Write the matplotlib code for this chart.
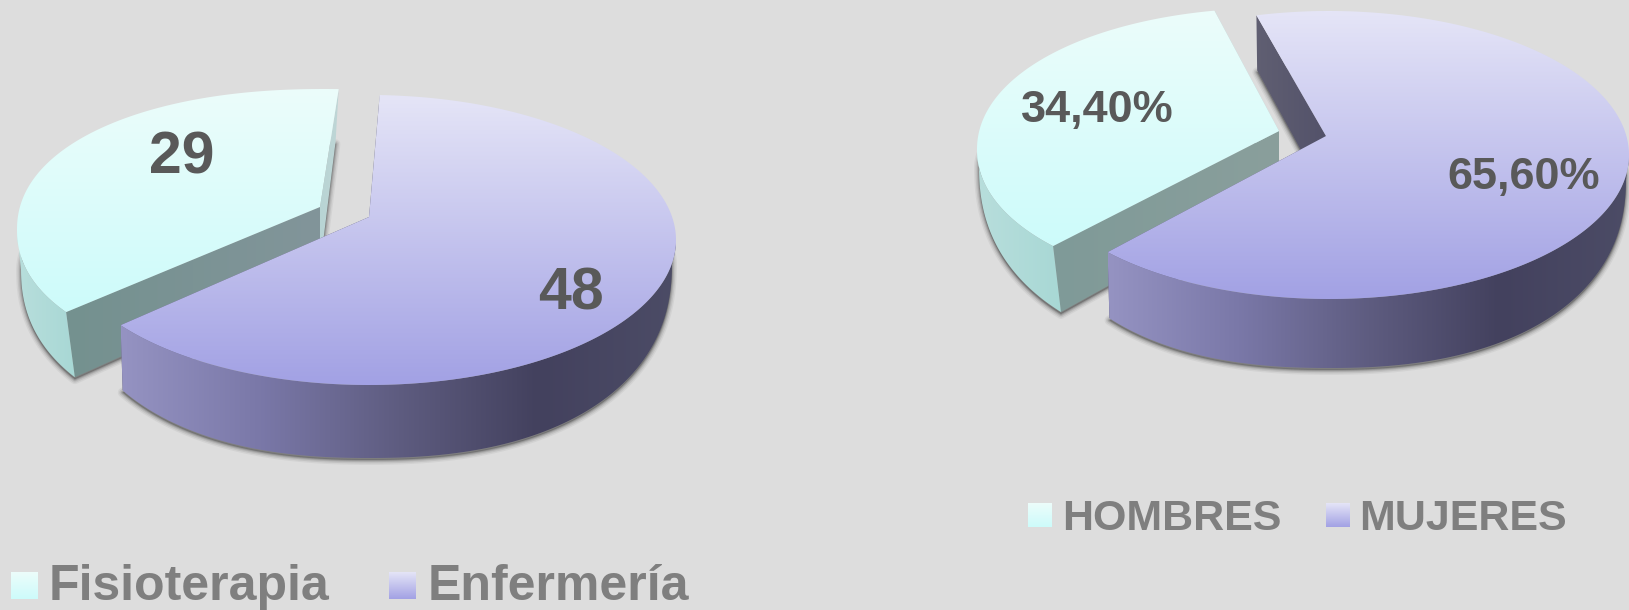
import numpy as np
import matplotlib
matplotlib.use("Agg")
import matplotlib.pyplot as plt
from matplotlib.colors import LinearSegmentedColormap
from matplotlib.patches import Polygon

plt.rcParams["font.family"] = ["Liberation Sans", "DejaVu Sans"]

# Data
left_categories = ["Fisioterapia", "Enfermería"]
left_values = [29, 48]
right_categories = ["HOMBRES", "MUJERES"]
right_values = [34.40, 65.60]

BG = "#dddddd"
TOP_COLORS = [["#ecfdfb", "#cdfbfa"], ["#e5e5f7", "#a2a1e4"]]
WALL_COLORS = [["#b8dedc", "#a8d8d5"],
               ["#9593c2", "#7a78a8", "#5e5c80", "#43415e", "#4c4c66"]]
FACE_COLORS = [["#74918f", "#82959a"], ["#605f72", "#53526a"]]
RIGHT_FACE_COLORS = [["#7f9a98", "#8a9f9c"], ["#605f72", "#53526a"]]
BACK_COLORS = ["#b8d4d4", "#bfd6d6"]

fig = plt.figure(figsize=(16.29, 6.10), dpi=100, facecolor=BG)
ax = fig.add_axes([0, 0, 1, 1])
ax.set_facecolor(BG)
ax.axis("off")


def grad_fill(verts, colors, vertical=False, zorder=2):
    verts = np.array(verts)
    cmap = LinearSegmentedColormap.from_list("g", colors)
    g = np.linspace(0, 1, 256)
    g = g[:, None] if vertical else g[None, :]
    extent = (verts[:, 0].min(), verts[:, 0].max(), verts[:, 1].max(), verts[:, 1].min())
    im = ax.imshow(g, cmap=cmap, extent=extent, aspect="auto", origin="upper",
                   interpolation="bilinear", zorder=zorder)
    clip = Polygon(verts, closed=True, transform=ax.transData)
    im.set_clip_path(clip)
    return im


def top_rim(p, angles):
    t = np.radians(angles)
    c, s = np.cos(t), np.sin(t)
    e = p.get("e", 1.0)
    return np.column_stack([p["cx"] + p["rx"] * np.sign(c) * np.abs(c) ** e,
                            p["cy"] - p["ry"] * np.sign(s) * np.abs(s) ** e])


def low_rim(p, angles):
    # the bottom outline is blunter than the top one, front and back differ
    t = np.radians(angles)
    c, s = np.cos(t), np.sin(t)
    x = np.where(s < 0, np.sign(c) * np.abs(c) ** 0.87, c)
    y = np.where(s < 0, p["base"] + p["front"] * np.abs(s) ** 0.87, p["base"] - p["back"] * s)
    return np.column_stack([p["cx"] + p["low_rx"] * x, y])


def draw_slice(p, share, top_colors, wall_colors, near_colors, far_colors, z):
    a0 = p["start"]
    a1 = a0 - (share * 360 + p["skew"])
    apex = np.array(p["apex"], dtype=float)
    apex_low = apex + [0, 60]
    angles = np.linspace(a0, a1, 360)
    # near edge of the bottom sits a little further round than the top one
    low_angles = np.linspace(a0 + p["shift"] if np.sin(np.radians(a0)) < 0 else a0,
                             a1 + p["shift"] if np.sin(np.radians(a1)) < 0 else a1, 360)
    top_arc = top_rim(p, angles)
    low_arc = low_rim(p, low_angles)

    # soft shadow under the slice
    outline = np.vstack([low_arc, apex_low]) + [0, 2]
    for lw, alpha in [(7, 0.08), (5, 0.12), (3, 0.18), (1.5, 0.28)]:
        ax.add_patch(Polygon(outline, closed=True, fc="#555555", ec="#555555",
                             lw=lw, alpha=alpha, zorder=z, joinstyle="round"))

    # cut faces, then the front part of the wall, then the top surface
    far_i, near_i = (-1, 0) if a0 > 180 else (0, -1)
    grad_fill([top_arc[far_i], apex, apex_low, low_arc[far_i]], far_colors, zorder=z + 0.1)
    grad_fill([top_arc[near_i], apex, apex_low, low_arc[near_i]], near_colors, zorder=z + 0.2)
    wall = np.vstack([top_arc[np.sin(np.radians(angles)) <= 0],
                      low_arc[np.sin(np.radians(low_angles)) <= 0][::-1]])
    grad_fill(wall, wall_colors, zorder=z + 0.3)
    grad_fill(np.vstack([top_arc, apex]), top_colors, vertical=True, zorder=z + 0.4)


# Left pie
left_total = sum(left_values)
draw_slice(dict(cx=324, cy=230, rx=307, ry=141, e=0.93, apex=(320, 207), start=214, skew=-9.4,
                low_rx=303, base=268, front=170, back=126, shift=3),
           left_values[0] / left_total, TOP_COLORS[0], WALL_COLORS[0],
           FACE_COLORS[0], BACK_COLORS, 3)
draw_slice(dict(cx=369, cy=240, rx=307, ry=145, apex=(369, 217), start=88, skew=7.6,
                low_rx=303, base=262, front=196, back=115, shift=2),
           left_values[1] / left_total, TOP_COLORS[1], WALL_COLORS[1],
           FACE_COLORS[1], FACE_COLORS[1], 4)

# Right pie
right_total = sum(right_values)
draw_slice(dict(cx=1277, cy=149.6, rx=300, ry=141.7, e=0.97, apex=(1279, 131), start=222.3, skew=-3.0,
                low_rx=298, base=165, front=195, back=103, shift=4),
           right_values[0] / right_total, TOP_COLORS[0], WALL_COLORS[0],
           RIGHT_FACE_COLORS[0], BACK_COLORS, 3)
draw_slice(dict(cx=1329, cy=155, rx=300, ry=144, apex=(1326, 136), start=104, skew=5.4,
                low_rx=297, base=177, front=191, back=110, shift=2.6),
           right_values[1] / right_total, TOP_COLORS[1], WALL_COLORS[1],
           RIGHT_FACE_COLORS[1], RIGHT_FACE_COLORS[1], 4)


def px(size):
    return size * 72 / fig.dpi


# Value labels
label_style = dict(color="#595959", fontweight="bold", ha="left", va="baseline", zorder=8)
ax.text(149, 173, str(left_values[0]), fontsize=px(59), **label_style)
ax.text(538, 309, str(left_values[1]), fontsize=px(59), **label_style)
ax.text(1021, 122, f"{right_values[0]:.2f}%".replace(".", ","), fontsize=px(45), **label_style)
ax.text(1447, 189, f"{right_values[1]:.2f}%".replace(".", ","), fontsize=px(45), **label_style)

# Legends
legend_style = dict(color="#7f7f7f", fontweight="bold", ha="left", va="baseline", zorder=8)
legend_left = [(11, 49), (389, 428)]
for (mx, tx), name, colors in zip(legend_left, left_categories, TOP_COLORS):
    grad_fill([(mx, 572), (mx + 27, 572), (mx + 27, 599), (mx, 599)], colors, vertical=True)
    ax.text(tx, 600, name, fontsize=px(50), **legend_style)
legend_right = [(1028, 1062), (1326, 1359)]
for (mx, tx), name, colors in zip(legend_right, right_categories, TOP_COLORS):
    grad_fill([(mx, 503), (mx + 24, 503), (mx + 24, 527), (mx, 527)], colors, vertical=True)
    ax.text(tx, 530, name, fontsize=px(43), **legend_style)

ax.set_xlim(0, 1629)
ax.set_ylim(610, 0)

fig.savefig("out.png", dpi=100, facecolor=BG)
